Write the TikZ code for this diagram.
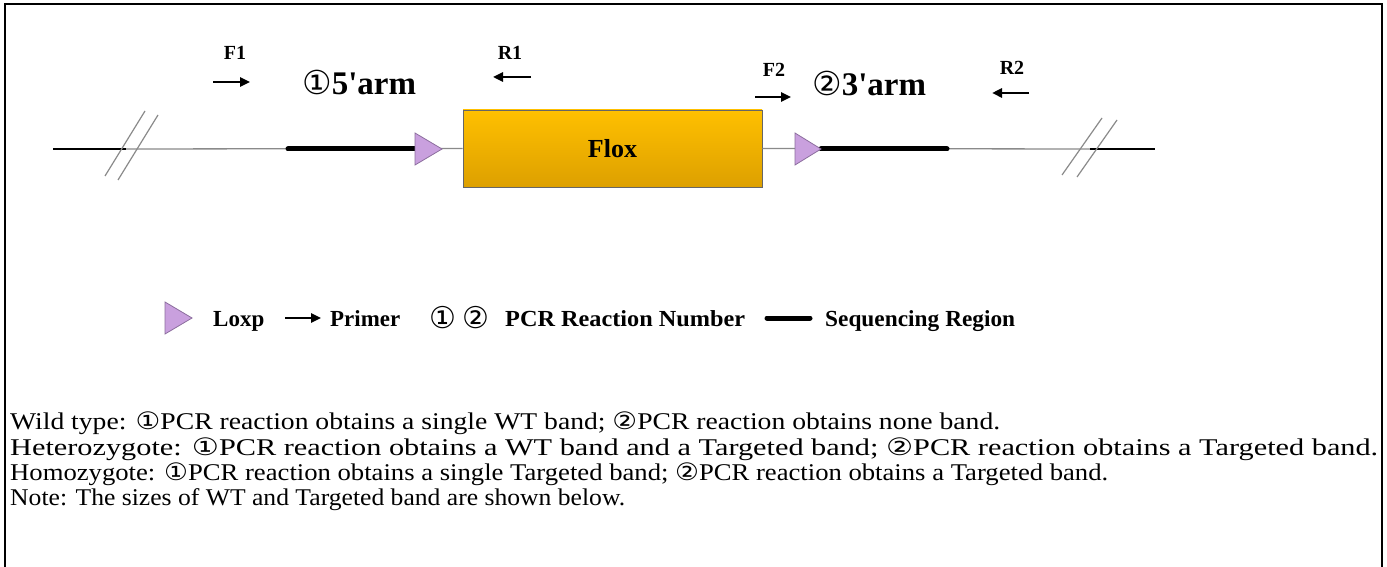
\documentclass[tikz,border=0pt]{standalone}
\usepackage{fontspec}
\setmainfont{Liberation Serif}
\newfontfamily\armfont{Liberation Serif}
\newfontfamily\circf{DejaVu Sans}
\usetikzlibrary{arrows.meta}
\definecolor{loxfill}{HTML}{C9A0DE}
\definecolor{loxdraw}{HTML}{8C6E9E}
\definecolor{goldtop}{HTML}{FFC000}
\definecolor{goldbot}{HTML}{DDA000}
\definecolor{dnagray}{HTML}{8A8A8A}
\tikzset{
  frame/.style={line width=2pt},
  dna/.style={dnagray, line width=1.3pt},
  flank/.style={black, line width=1.2pt},
  seqreg/.style={black, line width=5pt, line cap=round},
  brk/.style={dnagray, line width=1.2pt},
  loxtri/.style={fill=loxfill, draw=loxdraw, line width=0.8pt, line join=miter},
  primer/.style={line width=2.4pt, -{Triangle[length=10pt,width=9pt]}},
  plabel/.style={font=\bfseries\fontsize{20}{22}\selectfont, inner sep=0},
  armlabel/.style={font=\armfont\bfseries\fontsize{33}{36}\selectfont, inner sep=0},
  legtext/.style={font=\bfseries\fontsize{23}{25}\selectfont, inner sep=0, anchor=base west},
  body/.style={font=\fontsize{24}{25}\selectfont, inner sep=0, anchor=base west},
  floxbox/.style={draw=gray!80!black, line width=0.8pt, top color=goldtop, bottom color=goldbot,
    minimum width=299pt, minimum height=77pt, inner sep=0, font=\bfseries\fontsize{26}{28}\selectfont}
}
\newcommand{\fitw}[2]{\resizebox{#1}{\height}{#2}}
\begin{document}
\begin{tikzpicture}[x=1pt,y=-1pt]
\useasboundingbox (0,0) rectangle (1387,567);
\fill[white] (0,0) rectangle (1387,567);
% frame
\draw[frame] (5,600) -- (5,4) -- (1382,4) -- (1382,600);

% main construct coordinates
\coordinate (L0) at (53,149);
\coordinate (Lb) at (126,149);
\coordinate (A1) at (288,149);
\coordinate (T1w) at (415,149);
\coordinate (T1e) at (442,149);
\coordinate (T2w) at (795,149);
\coordinate (T2e) at (821,149);
\coordinate (A4) at (947,149);
\coordinate (Rb) at (1090,149);
\coordinate (R0) at (1155,149);

\node[floxbox] (flox) at (612.5,148.5) {Flox};

\draw[flank] (L0) -- (Lb);
\draw[dna] (Lb) -- (flox.west);
\draw[dna] (flox.east) -- (Rb);
\draw[flank] (Rb) -- (R0);
\draw[seqreg] (A1) -- (T1w);
\draw[seqreg] (T2e) -- (A4);

% loxp triangles
\draw[loxtri] (415,133) -- (T1e) -- (415,165) -- cycle;
\draw[loxtri] (795,133) -- (T2e) -- (795,165) -- cycle;

% break marks
\draw[brk] (105,176) -- (145,111);
\draw[brk] (118,180) -- (158,115);
\draw[brk] (1062,175) -- (1102,118);
\draw[brk] (1077,177) -- (1117,120);

% primers
\coordinate (f1s) at (213,82); \coordinate (f1e) at (250,82);
\coordinate (r1s) at (531,77); \coordinate (r1e) at (493,77);
\coordinate (f2s) at (755,97); \coordinate (f2e) at (791,97);
\coordinate (r2s) at (1029,93); \coordinate (r2e) at (992,93);
\draw[primer] (f1s) -- (f1e);
\draw[primer] (r1s) -- (r1e);
\draw[primer] (f2s) -- (f2e);
\draw[primer] (r2s) -- (r2e);
\node[plabel] (F1) at (235,53) {F1};
\node[plabel] (R1) at (510,53) {R1};
\node[plabel] (F2) at (774,70) {F2};
\node[plabel] (R2) at (1012,68) {R2};

\node[armlabel, anchor=west] (arm5) at (302,82) {{\circf\mdseries ①}5'arm};
\node[armlabel, anchor=west] (arm3) at (812,83) {{\circf\mdseries ②}3'arm};

% legend
\draw[loxtri] (165,302) -- (192,318) -- (165,334) -- cycle;
\node[legtext] (lgl) at (213,326) {Loxp};
\coordinate (lps) at (285,318); \coordinate (lpe) at (321,318);
\draw[primer] (lps) -- (lpe);
\node[legtext] (lgp) at (330,326) {\fitw{70pt}{Primer}};
\node[legtext] (lgc) at (429,328) {\circf\mdseries\fontsize{30}{32}\selectfont ①\hspace{6pt}②};
\node[legtext] (lgn) at (505,326) {\fitw{240pt}{PCR Reaction Number}};
\coordinate (lss) at (767,318); \coordinate (lse) at (810,318);
\draw[seqreg] (lss) -- (lse);
\node[legtext] (lgs) at (825,326) {\fitw{190pt}{Sequencing\hspace{6pt}Region}};

% body text
\node[body] (t1) at (10,429) {\fitw{990pt}{Wild type: {\circf ①}PCR reaction obtains a single WT band; {\circf ②}PCR reaction obtains none band.}};
\node[body] (t2) at (10,455) {\fitw{1368pt}{Heterozygote: {\circf ①}PCR reaction obtains a WT band and a Targeted band; {\circf ②}PCR reaction obtains a Targeted band.}};
\node[body] (t3) at (10,480) {\fitw{1098pt}{Homozygote: {\circf ①}PCR reaction obtains a single Targeted band; {\circf ②}PCR reaction obtains a Targeted band.}};
\node[body] (t4) at (10,505) {\fitw{615pt}{Note: The sizes of WT and Targeted band are shown below.}};
\end{tikzpicture}
\end{document}
